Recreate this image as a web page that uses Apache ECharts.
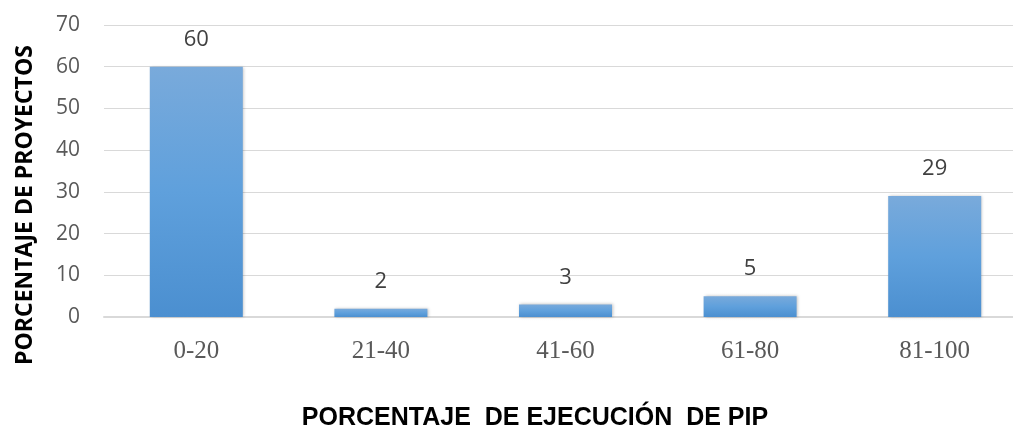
<!DOCTYPE html>
<html>
<head>
<meta charset="utf-8">
<script src="https://cdn.jsdelivr.net/npm/echarts@6/dist/echarts.min.js"></script>
<style>
  html, body { margin: 0; padding: 0; background: #fff; }
  #chart { width: 1013px; height: 431px; }
</style>
</head>
<body>
<div id="chart"></div>
<script>
// Execution ranges of public investment projects (PIP) and share of projects in each
const categories = ['0-20', '21-40', '41-60', '61-80', '81-100'];
const values = [60, 2, 3, 5, 29];
const yTicks = { min: 0, max: 70, interval: 10 };
const yTitle = 'PORCENTAJE DE PROYECTOS';
const xTitle = 'PORCENTAJE  DE EJECUCIÓN  DE PIP';

const chart = echarts.init(document.getElementById('chart'));

chart.setOption({
  animation: false,
  backgroundColor: '#ffffff',
  // the plot runs a little past the right edge of the canvas
  grid: {
    left: 104, width: 923, top: 25, height: 292,
    containLabel: false,
    outerBoundsMode: 'none'
  },
  xAxis: {
    type: 'category',
    data: categories,
    axisLine: { lineStyle: { color: '#d9d9d9', width: 2 } },
    axisTick: { show: false },
    axisLabel: {
      margin: 22,
      fontFamily: 'Liberation Serif, serif',
      fontSize: 25,
      color: '#595959'
    }
  },
  yAxis: {
    type: 'value',
    min: yTicks.min,
    max: yTicks.max,
    interval: yTicks.interval,
    axisLine: { show: false },
    axisTick: { show: false },
    splitLine: { lineStyle: { color: '#d9d9d9', width: 1 } },
    axisLabel: {
      margin: 24,
      fontFamily: 'Open Sans, sans-serif',
      fontSize: 21,
      color: '#595959'
    }
  },
  series: [{
    type: 'bar',
    data: values,
    barWidth: 93,
    itemStyle: {
      color: new echarts.graphic.LinearGradient(0, 0, 0, 1, [
        { offset: 0, color: '#79aadb' },
        { offset: 0.5, color: '#5fa0dc' },
        { offset: 1, color: '#4b8fd0' }
      ]),
      shadowBlur: 3,
      shadowColor: 'rgba(0,0,0,0.25)',
      shadowOffsetX: 1,
      shadowOffsetY: 0
    },
    label: {
      show: true,
      position: 'top',
      distance: 16,
      fontFamily: 'Open Sans, sans-serif',
      fontSize: 22,
      color: '#404040'
    }
  }],
  graphic: [
    {
      type: 'text',
      x: 25,
      y: 205,
      rotation: Math.PI / 2,
      style: {
        text: yTitle,
        fontFamily: 'Open Sans, sans-serif',
        fontWeight: 'bold',
        fontSize: 23,
        fill: '#000000',
        align: 'center',
        verticalAlign: 'middle'
      }
    },
    {
      type: 'text',
      x: 535,
      y: 418,
      style: {
        text: xTitle,
        fontFamily: 'Liberation Sans, Arial, sans-serif',
        fontWeight: 'bold',
        fontSize: 25,
        fill: '#000000',
        align: 'center',
        verticalAlign: 'middle'
      }
    }
  ]
});
</script>
</body>
</html>
